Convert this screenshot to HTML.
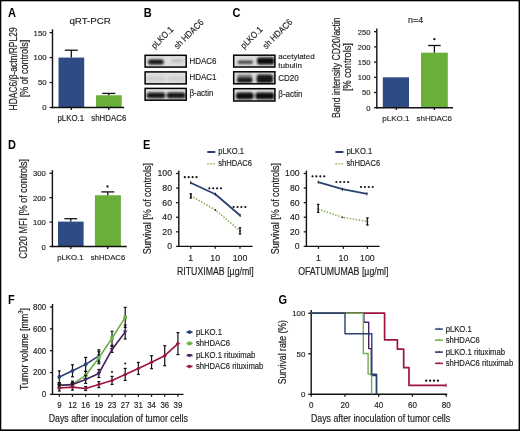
<!DOCTYPE html>
<html><head><meta charset="utf-8"><style>
html,body{margin:0;padding:0;background:#fff;}
svg{display:block;font-family:"Liberation Sans", sans-serif;will-change:transform;filter:blur(0.3px);}

</style></head><body>
<svg width="520" height="431" viewBox="0 0 520 431">
<defs><filter id="blur" x="-50%" y="-100%" width="200%" height="300%"><feGaussianBlur stdDeviation="1.0"/></filter></defs>
<rect width="520" height="431" fill="#fff"/>
<rect x="0.00" y="0.00" width="520.00" height="1.30" fill="#000" />
<rect x="0.00" y="0.00" width="1.30" height="431.00" fill="#000" />
<rect x="518.60" y="0.00" width="1.40" height="431.00" fill="#000" />
<rect x="0.00" y="429.40" width="520.00" height="1.60" fill="#000" />
<text x="0" y="0" font-size="11" text-anchor="start" font-weight="bold" fill="#000" stroke="#000" stroke-width="0" transform="translate(8.00,16.80) scale(1,1.1)" >A</text>
<text x="0" y="0" font-size="11" text-anchor="start" font-weight="bold" fill="#000" stroke="#000" stroke-width="0" transform="translate(143.80,17.30) scale(1,1.1)" >B</text>
<text x="0" y="0" font-size="11" text-anchor="start" font-weight="bold" fill="#000" stroke="#000" stroke-width="0" transform="translate(232.60,17.00) scale(1,1.1)" >C</text>
<text x="0" y="0" font-size="11" text-anchor="start" font-weight="bold" fill="#000" stroke="#000" stroke-width="0" transform="translate(8.00,148.60) scale(1,1.1)" >D</text>
<text x="0" y="0" font-size="11" text-anchor="start" font-weight="bold" fill="#000" stroke="#000" stroke-width="0" transform="translate(143.00,148.80) scale(1,1.1)" >E</text>
<text x="0" y="0" font-size="11" text-anchor="start" font-weight="bold" fill="#000" stroke="#000" stroke-width="0" transform="translate(8.00,303.70) scale(1,1.1)" >F</text>
<text x="0" y="0" font-size="11" text-anchor="start" font-weight="bold" fill="#000" stroke="#000" stroke-width="0" transform="translate(278.60,304.20) scale(1,1.1)" >G</text>
<text x="0" y="0" font-size="9.7" text-anchor="middle" font-weight="normal" fill="#1e1e1e" stroke="#1e1e1e" stroke-width="0.15" transform="translate(90.10,24.40) scale(1,1.0)" >qRT-PCR</text>
<line x1="52.50" y1="29.30" x2="52.50" y2="108.20" stroke="#111" stroke-width="1.4" />
<line x1="49.60" y1="32.60" x2="52.50" y2="32.60" stroke="#111" stroke-width="1.26" />
<text x="0" y="0" font-size="7.8" text-anchor="end" font-weight="normal" fill="#1e1e1e" stroke="#1e1e1e" stroke-width="0.15" transform="translate(46.60,35.51) scale(1,1.0)" >150</text>
<line x1="49.60" y1="57.57" x2="52.50" y2="57.57" stroke="#111" stroke-width="1.26" />
<text x="0" y="0" font-size="7.8" text-anchor="end" font-weight="normal" fill="#1e1e1e" stroke="#1e1e1e" stroke-width="0.15" transform="translate(46.60,60.47) scale(1,1.0)" >100</text>
<line x1="49.60" y1="82.53" x2="52.50" y2="82.53" stroke="#111" stroke-width="1.26" />
<text x="0" y="0" font-size="7.8" text-anchor="end" font-weight="normal" fill="#1e1e1e" stroke="#1e1e1e" stroke-width="0.15" transform="translate(46.60,85.44) scale(1,1.0)" >50</text>
<line x1="49.60" y1="107.50" x2="52.50" y2="107.50" stroke="#111" stroke-width="1.26" />
<text x="0" y="0" font-size="7.8" text-anchor="end" font-weight="normal" fill="#1e1e1e" stroke="#1e1e1e" stroke-width="0.15" transform="translate(46.60,110.41) scale(1,1.0)" >0</text>
<rect x="58.50" y="57.57" width="25.70" height="49.93" fill="#2e4b84" />
<rect x="96.00" y="95.27" width="25.70" height="12.23" fill="#6aae3c" />
<line x1="71.30" y1="50.20" x2="71.30" y2="57.57" stroke="#111" stroke-width="1.3" />
<line x1="64.80" y1="50.20" x2="77.80" y2="50.20" stroke="#111" stroke-width="1.3" />
<line x1="108.80" y1="93.40" x2="108.80" y2="95.27" stroke="#111" stroke-width="1.3" />
<line x1="102.30" y1="93.40" x2="115.30" y2="93.40" stroke="#111" stroke-width="1.3" />
<line x1="51.80" y1="107.50" x2="124.20" y2="107.50" stroke="#111" stroke-width="1.4" />
<line x1="71.30" y1="107.50" x2="71.30" y2="109.90" stroke="#111" stroke-width="1.26" />
<line x1="108.80" y1="107.50" x2="108.80" y2="109.90" stroke="#111" stroke-width="1.26" />
<text x="0" y="0" font-size="7.9" text-anchor="middle" font-weight="normal" fill="#1e1e1e" stroke="#1e1e1e" stroke-width="0.15" transform="translate(70.80,120.90) scale(1,1.12)" >pLKO.1</text>
<text x="0" y="0" font-size="7.9" text-anchor="middle" font-weight="normal" fill="#1e1e1e" stroke="#1e1e1e" stroke-width="0.15" transform="translate(108.80,120.90) scale(1,1.12)" >shHDAC6</text>
<text x="0" y="0" font-size="8.5" text-anchor="middle" fill="#1e1e1e" stroke="#1e1e1e" stroke-width="0.15" transform="translate(16.50,68.90) rotate(-90) scale(1,1.22)">HDAC6/β-actn/RPL29</text>
<text x="0" y="0" font-size="9.1" text-anchor="middle" fill="#1e1e1e" stroke="#1e1e1e" stroke-width="0.15" transform="translate(27.70,68.55) rotate(-90) scale(1,1.22)">[% of controls]</text>
<rect x="145.10" y="55.30" width="41.10" height="11.80" fill="#dedede" stroke="#000" stroke-width="1.5"/>
<rect x="148" y="59.4" width="15.80" height="5.20" rx="2.50" fill="#0a0a0a" opacity="0.95" filter="url(#blur)"/>
<rect x="171" y="59.2" width="12.50" height="3.40" rx="1.70" fill="#0a0a0a" opacity="0.15" filter="url(#blur)"/>
<rect x="145.10" y="71.90" width="41.10" height="12.00" fill="#dedede" stroke="#000" stroke-width="1.5"/>
<rect x="147" y="76.5" width="18.00" height="4.50" rx="2.25" fill="#0a0a0a" opacity="0.07" filter="url(#blur)"/>
<rect x="168" y="76.5" width="17.00" height="4.50" rx="2.25" fill="#0a0a0a" opacity="0.07" filter="url(#blur)"/>
<rect x="145.10" y="88.40" width="41.10" height="11.80" fill="#dedede" stroke="#000" stroke-width="1.5"/>
<rect x="146.8" y="92.4" width="18.50" height="5.80" rx="2.50" fill="#0a0a0a" opacity="0.95" filter="url(#blur)"/>
<rect x="166.7" y="92.4" width="18.80" height="5.80" rx="2.50" fill="#0a0a0a" opacity="0.95" filter="url(#blur)"/>
<text x="0" y="0" font-size="8" text-anchor="start" font-weight="normal" fill="#1e1e1e" stroke="#1e1e1e" stroke-width="0.15" transform="translate(189.40,63.80) scale(1,1.12)" >HDAC6</text>
<text x="0" y="0" font-size="8" text-anchor="start" font-weight="normal" fill="#1e1e1e" stroke="#1e1e1e" stroke-width="0.15" transform="translate(189.40,80.40) scale(1,1.12)" >HDAC1</text>
<text x="0" y="0" font-size="8" text-anchor="start" font-weight="normal" fill="#1e1e1e" stroke="#1e1e1e" stroke-width="0.15" transform="translate(189.40,96.40) scale(1,1.12)" >β-actin</text>
<text x="0" y="0" font-size="8" fill="#1e1e1e" stroke="#1e1e1e" stroke-width="0.15" transform="translate(154.8,49.3) rotate(-45) scale(1,1.12)">pLKO.1</text>
<text x="0" y="0" font-size="8" fill="#1e1e1e" stroke="#1e1e1e" stroke-width="0.15" transform="translate(177.5,49.6) rotate(-45) scale(1,1.12)">sh HDAC6</text>
<rect x="233.70" y="55.20" width="41.20" height="11.80" fill="#dedede" stroke="#000" stroke-width="1.5"/>
<rect x="237.6" y="60.6" width="15.40" height="3.40" rx="1.70" fill="#0a0a0a" opacity="0.72" filter="url(#blur)"/>
<rect x="257" y="57.4" width="17.30" height="7.00" rx="2.50" fill="#0a0a0a" opacity="1.0" filter="url(#blur)"/>
<rect x="233.70" y="71.80" width="41.20" height="12.00" fill="#dedede" stroke="#000" stroke-width="1.5"/>
<rect x="237" y="74.3" width="15.50" height="4.50" rx="2.25" fill="#0a0a0a" opacity="0.4" filter="url(#blur)"/>
<rect x="237" y="77.6" width="15.50" height="5.20" rx="2.50" fill="#0a0a0a" opacity="0.95" filter="url(#blur)"/>
<rect x="256.6" y="74.6" width="16.40" height="8.30" rx="2.50" fill="#0a0a0a" opacity="0.95" filter="url(#blur)"/>
<rect x="233.70" y="88.70" width="41.20" height="12.30" fill="#dedede" stroke="#000" stroke-width="1.5"/>
<rect x="236" y="92.6" width="17.60" height="6.70" rx="2.50" fill="#0a0a0a" opacity="1.0" filter="url(#blur)"/>
<rect x="255.4" y="92.6" width="18.80" height="6.70" rx="2.50" fill="#0a0a0a" opacity="1.0" filter="url(#blur)"/>
<text x="0" y="0" font-size="8" text-anchor="start" font-weight="normal" fill="#1e1e1e" stroke="#1e1e1e" stroke-width="0.15" transform="translate(278.30,58.80) scale(1,0.92)" >acetylated</text>
<text x="0" y="0" font-size="8" text-anchor="start" font-weight="normal" fill="#1e1e1e" stroke="#1e1e1e" stroke-width="0.15" transform="translate(278.30,67.60) scale(1,0.95)" >tubulin</text>
<text x="0" y="0" font-size="8" text-anchor="start" font-weight="normal" fill="#1e1e1e" stroke="#1e1e1e" stroke-width="0.15" transform="translate(278.30,80.70) scale(1,1.12)" >CD20</text>
<text x="0" y="0" font-size="8" text-anchor="start" font-weight="normal" fill="#1e1e1e" stroke="#1e1e1e" stroke-width="0.15" transform="translate(278.30,97.00) scale(1,1.12)" >β-actin</text>
<text x="0" y="0" font-size="8" fill="#1e1e1e" stroke="#1e1e1e" stroke-width="0.15" transform="translate(244.0,49.2) rotate(-45) scale(1,1.12)">pLKO.1</text>
<text x="0" y="0" font-size="8" fill="#1e1e1e" stroke="#1e1e1e" stroke-width="0.15" transform="translate(266.2,49.4) rotate(-45) scale(1,1.12)">sh HDAC6</text>
<text x="0" y="0" font-size="8.9" text-anchor="middle" font-weight="normal" fill="#1e1e1e" stroke="#1e1e1e" stroke-width="0.15" transform="translate(415.60,23.10) scale(1,0.93)" >n=4</text>
<line x1="376.80" y1="28.50" x2="376.80" y2="108.40" stroke="#111" stroke-width="1.4" />
<line x1="374.00" y1="31.70" x2="376.80" y2="31.70" stroke="#111" stroke-width="1.26" />
<text x="0" y="0" font-size="7.6" text-anchor="end" font-weight="normal" fill="#1e1e1e" stroke="#1e1e1e" stroke-width="0.15" transform="translate(370.50,34.54) scale(1,0.92)" >250</text>
<line x1="374.00" y1="46.90" x2="376.80" y2="46.90" stroke="#111" stroke-width="1.26" />
<text x="0" y="0" font-size="7.6" text-anchor="end" font-weight="normal" fill="#1e1e1e" stroke="#1e1e1e" stroke-width="0.15" transform="translate(370.50,49.74) scale(1,0.92)" >200</text>
<line x1="374.00" y1="62.10" x2="376.80" y2="62.10" stroke="#111" stroke-width="1.26" />
<text x="0" y="0" font-size="7.6" text-anchor="end" font-weight="normal" fill="#1e1e1e" stroke="#1e1e1e" stroke-width="0.15" transform="translate(370.50,64.94) scale(1,0.92)" >150</text>
<line x1="374.00" y1="77.30" x2="376.80" y2="77.30" stroke="#111" stroke-width="1.26" />
<text x="0" y="0" font-size="7.6" text-anchor="end" font-weight="normal" fill="#1e1e1e" stroke="#1e1e1e" stroke-width="0.15" transform="translate(370.50,80.14) scale(1,0.92)" >100</text>
<line x1="374.00" y1="92.50" x2="376.80" y2="92.50" stroke="#111" stroke-width="1.26" />
<text x="0" y="0" font-size="7.6" text-anchor="end" font-weight="normal" fill="#1e1e1e" stroke="#1e1e1e" stroke-width="0.15" transform="translate(370.50,95.34) scale(1,0.92)" >50</text>
<line x1="374.00" y1="107.70" x2="376.80" y2="107.70" stroke="#111" stroke-width="1.26" />
<text x="0" y="0" font-size="7.6" text-anchor="end" font-weight="normal" fill="#1e1e1e" stroke="#1e1e1e" stroke-width="0.15" transform="translate(370.50,110.54) scale(1,0.92)" >0</text>
<rect x="382.80" y="77.30" width="26.20" height="30.40" fill="#2e4b84" />
<rect x="421.00" y="52.68" width="26.80" height="55.02" fill="#6aae3c" />
<line x1="434.40" y1="45.50" x2="434.40" y2="52.68" stroke="#111" stroke-width="1.3" />
<line x1="428.10" y1="45.50" x2="440.70" y2="45.50" stroke="#111" stroke-width="1.3" />
<circle cx="434.40" cy="39.20" r="1.15" fill="#111"/>
<line x1="376.10" y1="107.70" x2="453.00" y2="107.70" stroke="#111" stroke-width="1.4" />
<line x1="396.30" y1="107.70" x2="396.30" y2="110.10" stroke="#111" stroke-width="1.26" />
<line x1="434.30" y1="107.70" x2="434.30" y2="110.10" stroke="#111" stroke-width="1.26" />
<text x="0" y="0" font-size="8" text-anchor="middle" font-weight="normal" fill="#1e1e1e" stroke="#1e1e1e" stroke-width="0.15" transform="translate(395.90,120.80) scale(1,0.87)" >pLKO.1</text>
<text x="0" y="0" font-size="8" text-anchor="middle" font-weight="normal" fill="#1e1e1e" stroke="#1e1e1e" stroke-width="0.15" transform="translate(434.20,120.80) scale(1,0.87)" >shHDAC6</text>
<text x="0" y="0" font-size="8.75" text-anchor="middle" fill="#1e1e1e" stroke="#1e1e1e" stroke-width="0.15" transform="translate(340.00,67.60) rotate(-90) scale(1,1.22)">Band intensity CD20/actin</text>
<text x="0" y="0" font-size="9.2" text-anchor="middle" fill="#1e1e1e" stroke="#1e1e1e" stroke-width="0.15" transform="translate(350.50,67.10) rotate(-90) scale(1,1.22)">[% controls]</text>
<line x1="52.40" y1="170.20" x2="52.40" y2="247.20" stroke="#111" stroke-width="1.4" />
<line x1="49.50" y1="173.30" x2="52.40" y2="173.30" stroke="#111" stroke-width="1.26" />
<text x="0" y="0" font-size="7.7" text-anchor="end" font-weight="normal" fill="#1e1e1e" stroke="#1e1e1e" stroke-width="0.15" transform="translate(45.90,176.37) scale(1,0.95)" >300</text>
<line x1="49.50" y1="197.70" x2="52.40" y2="197.70" stroke="#111" stroke-width="1.26" />
<text x="0" y="0" font-size="7.7" text-anchor="end" font-weight="normal" fill="#1e1e1e" stroke="#1e1e1e" stroke-width="0.15" transform="translate(45.90,200.77) scale(1,0.95)" >200</text>
<line x1="49.50" y1="222.10" x2="52.40" y2="222.10" stroke="#111" stroke-width="1.26" />
<text x="0" y="0" font-size="7.7" text-anchor="end" font-weight="normal" fill="#1e1e1e" stroke="#1e1e1e" stroke-width="0.15" transform="translate(45.90,225.17) scale(1,0.95)" >100</text>
<line x1="49.50" y1="246.50" x2="52.40" y2="246.50" stroke="#111" stroke-width="1.26" />
<text x="0" y="0" font-size="7.7" text-anchor="end" font-weight="normal" fill="#1e1e1e" stroke="#1e1e1e" stroke-width="0.15" transform="translate(45.90,249.57) scale(1,0.95)" >0</text>
<rect x="58.00" y="221.61" width="25.60" height="24.89" fill="#2e4b84" />
<rect x="94.90" y="195.26" width="26.00" height="51.24" fill="#6aae3c" />
<line x1="70.80" y1="218.70" x2="70.80" y2="221.61" stroke="#111" stroke-width="1.3" />
<line x1="64.40" y1="218.70" x2="77.20" y2="218.70" stroke="#111" stroke-width="1.3" />
<line x1="107.80" y1="191.90" x2="107.80" y2="195.26" stroke="#111" stroke-width="1.3" />
<line x1="101.30" y1="191.90" x2="114.30" y2="191.90" stroke="#111" stroke-width="1.3" />
<circle cx="107.50" cy="186.50" r="1.15" fill="#111"/>
<line x1="51.70" y1="246.50" x2="126.80" y2="246.50" stroke="#111" stroke-width="1.4" />
<line x1="70.80" y1="246.50" x2="70.80" y2="248.90" stroke="#111" stroke-width="1.26" />
<line x1="107.70" y1="246.50" x2="107.70" y2="248.90" stroke="#111" stroke-width="1.26" />
<text x="0" y="0" font-size="7.8" text-anchor="middle" font-weight="normal" fill="#1e1e1e" stroke="#1e1e1e" stroke-width="0.15" transform="translate(70.40,259.80) scale(1,1.02)" >pLKO.1</text>
<text x="0" y="0" font-size="7.8" text-anchor="middle" font-weight="normal" fill="#1e1e1e" stroke="#1e1e1e" stroke-width="0.15" transform="translate(108.00,259.80) scale(1,1.02)" >shHDAC6</text>
<text x="0" y="0" font-size="8.95" text-anchor="middle" fill="#1e1e1e" stroke="#1e1e1e" stroke-width="0.15" transform="translate(27.10,208.90) rotate(-90) scale(1,1.22)">CD20 MFI [% of controls]</text>
<line x1="178.80" y1="170.60" x2="178.80" y2="247.10" stroke="#111" stroke-width="1.4" />
<line x1="176.10" y1="173.50" x2="178.80" y2="173.50" stroke="#111" stroke-width="1.26" />
<text x="0" y="0" font-size="8.7" text-anchor="end" font-weight="normal" fill="#1e1e1e" stroke="#1e1e1e" stroke-width="0.15" transform="translate(172.00,176.43) scale(1,1.12)" >100</text>
<line x1="176.10" y1="188.08" x2="178.80" y2="188.08" stroke="#111" stroke-width="1.26" />
<text x="0" y="0" font-size="8.7" text-anchor="end" font-weight="normal" fill="#1e1e1e" stroke="#1e1e1e" stroke-width="0.15" transform="translate(172.00,191.01) scale(1,1.12)" >80</text>
<line x1="176.10" y1="202.66" x2="178.80" y2="202.66" stroke="#111" stroke-width="1.26" />
<text x="0" y="0" font-size="8.7" text-anchor="end" font-weight="normal" fill="#1e1e1e" stroke="#1e1e1e" stroke-width="0.15" transform="translate(172.00,205.59) scale(1,1.12)" >60</text>
<line x1="176.10" y1="217.24" x2="178.80" y2="217.24" stroke="#111" stroke-width="1.26" />
<text x="0" y="0" font-size="8.7" text-anchor="end" font-weight="normal" fill="#1e1e1e" stroke="#1e1e1e" stroke-width="0.15" transform="translate(172.00,220.17) scale(1,1.12)" >40</text>
<line x1="176.10" y1="231.82" x2="178.80" y2="231.82" stroke="#111" stroke-width="1.26" />
<text x="0" y="0" font-size="8.7" text-anchor="end" font-weight="normal" fill="#1e1e1e" stroke="#1e1e1e" stroke-width="0.15" transform="translate(172.00,234.75) scale(1,1.12)" >20</text>
<line x1="176.10" y1="246.40" x2="178.80" y2="246.40" stroke="#111" stroke-width="1.26" />
<text x="0" y="0" font-size="8.7" text-anchor="end" font-weight="normal" fill="#1e1e1e" stroke="#1e1e1e" stroke-width="0.15" transform="translate(172.00,249.33) scale(1,1.12)" >0</text>
<line x1="178.10" y1="246.40" x2="252.60" y2="246.40" stroke="#111" stroke-width="1.4" />
<line x1="190.80" y1="246.40" x2="190.80" y2="248.80" stroke="#111" stroke-width="1.26" />
<line x1="215.20" y1="246.40" x2="215.20" y2="248.80" stroke="#111" stroke-width="1.26" />
<line x1="240.00" y1="246.40" x2="240.00" y2="248.80" stroke="#111" stroke-width="1.26" />
<text x="0" y="0" font-size="8.8" text-anchor="middle" font-weight="normal" fill="#1e1e1e" stroke="#1e1e1e" stroke-width="0.15" transform="translate(190.80,261.10) scale(1,1.12)" >1</text>
<text x="0" y="0" font-size="8.8" text-anchor="middle" font-weight="normal" fill="#1e1e1e" stroke="#1e1e1e" stroke-width="0.15" transform="translate(215.20,261.10) scale(1,1.12)" >10</text>
<text x="0" y="0" font-size="8.8" text-anchor="middle" font-weight="normal" fill="#1e1e1e" stroke="#1e1e1e" stroke-width="0.15" transform="translate(240.00,261.10) scale(1,1.12)" >100</text>
<text x="0" y="0" font-size="8.8" text-anchor="middle" font-weight="normal" fill="#1e1e1e" stroke="#1e1e1e" stroke-width="0.15" transform="translate(215.30,275.30) scale(1,1.14)" >RITUXIMAB [µg/ml]</text>
<text x="0" y="0" font-size="9.0" text-anchor="middle" fill="#1e1e1e" stroke="#1e1e1e" stroke-width="0.15" transform="translate(150.60,208.60) rotate(-90) scale(1,1.22)">Survival [% of controls]</text>
<polyline points="190.80,195.80 215.40,210.00 240.00,231.00" fill="none" stroke="#86b152" stroke-width="1.6" stroke-linejoin="round" stroke-dasharray="1.4 1.6"/>
<line x1="190.80" y1="193.80" x2="190.80" y2="198.00" stroke="#111" stroke-width="1.3" />
<line x1="189.60" y1="193.80" x2="192.00" y2="193.80" stroke="#111" stroke-width="1.3" />
<line x1="189.60" y1="198.00" x2="192.00" y2="198.00" stroke="#111" stroke-width="1.3" />
<line x1="240.00" y1="227.80" x2="240.00" y2="234.00" stroke="#111" stroke-width="1.3" />
<line x1="238.80" y1="227.80" x2="241.20" y2="227.80" stroke="#111" stroke-width="1.3" />
<line x1="238.80" y1="234.00" x2="241.20" y2="234.00" stroke="#111" stroke-width="1.3" />
<circle cx="190.8" cy="195.8" r="0.9" fill="#333"/>
<circle cx="215.4" cy="210.0" r="0.9" fill="#333"/>
<circle cx="240.0" cy="231.0" r="0.9" fill="#333"/>
<polyline points="190.60,182.70 215.40,194.20 240.20,215.50" fill="none" stroke="#2a4175" stroke-width="1.8" stroke-linejoin="round" />
<line x1="190.60" y1="181.20" x2="190.60" y2="184.20" stroke="#222" stroke-width="1.0" />
<line x1="215.40" y1="192.70" x2="215.40" y2="195.70" stroke="#222" stroke-width="1.0" />
<line x1="240.20" y1="214.00" x2="240.20" y2="217.00" stroke="#222" stroke-width="1.0" />
<circle cx="184.80" cy="177.20" r="1.08" fill="#111"/>
<circle cx="188.70" cy="177.20" r="1.08" fill="#111"/>
<circle cx="192.60" cy="177.20" r="1.08" fill="#111"/>
<circle cx="196.50" cy="177.20" r="1.08" fill="#111"/>
<circle cx="209.30" cy="188.30" r="1.08" fill="#111"/>
<circle cx="213.20" cy="188.30" r="1.08" fill="#111"/>
<circle cx="217.10" cy="188.30" r="1.08" fill="#111"/>
<circle cx="221.00" cy="188.30" r="1.08" fill="#111"/>
<circle cx="233.60" cy="207.00" r="1.08" fill="#111"/>
<circle cx="237.50" cy="207.00" r="1.08" fill="#111"/>
<circle cx="241.40" cy="207.00" r="1.08" fill="#111"/>
<circle cx="245.30" cy="207.00" r="1.08" fill="#111"/>
<line x1="306.40" y1="170.60" x2="306.40" y2="247.10" stroke="#111" stroke-width="1.4" />
<line x1="303.70" y1="173.50" x2="306.40" y2="173.50" stroke="#111" stroke-width="1.26" />
<text x="0" y="0" font-size="8.7" text-anchor="end" font-weight="normal" fill="#1e1e1e" stroke="#1e1e1e" stroke-width="0.15" transform="translate(299.60,176.43) scale(1,1.12)" >100</text>
<line x1="303.70" y1="188.08" x2="306.40" y2="188.08" stroke="#111" stroke-width="1.26" />
<text x="0" y="0" font-size="8.7" text-anchor="end" font-weight="normal" fill="#1e1e1e" stroke="#1e1e1e" stroke-width="0.15" transform="translate(299.60,191.01) scale(1,1.12)" >80</text>
<line x1="303.70" y1="202.66" x2="306.40" y2="202.66" stroke="#111" stroke-width="1.26" />
<text x="0" y="0" font-size="8.7" text-anchor="end" font-weight="normal" fill="#1e1e1e" stroke="#1e1e1e" stroke-width="0.15" transform="translate(299.60,205.59) scale(1,1.12)" >60</text>
<line x1="303.70" y1="217.24" x2="306.40" y2="217.24" stroke="#111" stroke-width="1.26" />
<text x="0" y="0" font-size="8.7" text-anchor="end" font-weight="normal" fill="#1e1e1e" stroke="#1e1e1e" stroke-width="0.15" transform="translate(299.60,220.17) scale(1,1.12)" >40</text>
<line x1="303.70" y1="231.82" x2="306.40" y2="231.82" stroke="#111" stroke-width="1.26" />
<text x="0" y="0" font-size="8.7" text-anchor="end" font-weight="normal" fill="#1e1e1e" stroke="#1e1e1e" stroke-width="0.15" transform="translate(299.60,234.75) scale(1,1.12)" >20</text>
<line x1="303.70" y1="246.40" x2="306.40" y2="246.40" stroke="#111" stroke-width="1.26" />
<text x="0" y="0" font-size="8.7" text-anchor="end" font-weight="normal" fill="#1e1e1e" stroke="#1e1e1e" stroke-width="0.15" transform="translate(299.60,249.33) scale(1,1.12)" >0</text>
<line x1="305.70" y1="246.40" x2="379.60" y2="246.40" stroke="#111" stroke-width="1.4" />
<line x1="318.50" y1="246.40" x2="318.50" y2="248.80" stroke="#111" stroke-width="1.26" />
<line x1="343.40" y1="246.40" x2="343.40" y2="248.80" stroke="#111" stroke-width="1.26" />
<line x1="367.40" y1="246.40" x2="367.40" y2="248.80" stroke="#111" stroke-width="1.26" />
<text x="0" y="0" font-size="8.8" text-anchor="middle" font-weight="normal" fill="#1e1e1e" stroke="#1e1e1e" stroke-width="0.15" transform="translate(318.50,261.10) scale(1,1.12)" >1</text>
<text x="0" y="0" font-size="8.8" text-anchor="middle" font-weight="normal" fill="#1e1e1e" stroke="#1e1e1e" stroke-width="0.15" transform="translate(343.40,261.10) scale(1,1.12)" >10</text>
<text x="0" y="0" font-size="8.8" text-anchor="middle" font-weight="normal" fill="#1e1e1e" stroke="#1e1e1e" stroke-width="0.15" transform="translate(367.40,261.10) scale(1,1.12)" >100</text>
<text x="0" y="0" font-size="8.8" text-anchor="middle" font-weight="normal" fill="#1e1e1e" stroke="#1e1e1e" stroke-width="0.15" transform="translate(343.30,275.30) scale(1,1.14)" >OFATUMUMAB [µg/ml]</text>
<text x="0" y="0" font-size="9.0" text-anchor="middle" fill="#1e1e1e" stroke="#1e1e1e" stroke-width="0.15" transform="translate(278.60,208.60) rotate(-90) scale(1,1.22)">Survival [% of controls]</text>
<polyline points="318.20,209.20 342.50,217.30 367.40,221.50" fill="none" stroke="#86b152" stroke-width="1.6" stroke-linejoin="round" stroke-dasharray="1.4 1.6"/>
<line x1="318.20" y1="204.40" x2="318.20" y2="212.30" stroke="#111" stroke-width="1.3" />
<line x1="317.00" y1="204.40" x2="319.40" y2="204.40" stroke="#111" stroke-width="1.3" />
<line x1="317.00" y1="212.30" x2="319.40" y2="212.30" stroke="#111" stroke-width="1.3" />
<line x1="367.40" y1="218.00" x2="367.40" y2="225.00" stroke="#111" stroke-width="1.3" />
<line x1="366.20" y1="218.00" x2="368.60" y2="218.00" stroke="#111" stroke-width="1.3" />
<line x1="366.20" y1="225.00" x2="368.60" y2="225.00" stroke="#111" stroke-width="1.3" />
<circle cx="318.2" cy="209.2" r="0.9" fill="#333"/>
<circle cx="342.5" cy="217.3" r="0.9" fill="#333"/>
<circle cx="367.4" cy="221.5" r="0.9" fill="#333"/>
<polyline points="318.20,182.10 342.50,189.20 367.00,193.80" fill="none" stroke="#2a4175" stroke-width="1.8" stroke-linejoin="round" />
<line x1="318.20" y1="180.60" x2="318.20" y2="183.60" stroke="#222" stroke-width="1.0" />
<line x1="342.50" y1="187.70" x2="342.50" y2="190.70" stroke="#222" stroke-width="1.0" />
<line x1="367.00" y1="192.30" x2="367.00" y2="195.30" stroke="#222" stroke-width="1.0" />
<circle cx="312.50" cy="176.30" r="1.08" fill="#111"/>
<circle cx="316.40" cy="176.30" r="1.08" fill="#111"/>
<circle cx="320.30" cy="176.30" r="1.08" fill="#111"/>
<circle cx="324.20" cy="176.30" r="1.08" fill="#111"/>
<circle cx="336.40" cy="182.00" r="1.08" fill="#111"/>
<circle cx="340.30" cy="182.00" r="1.08" fill="#111"/>
<circle cx="344.20" cy="182.00" r="1.08" fill="#111"/>
<circle cx="348.10" cy="182.00" r="1.08" fill="#111"/>
<circle cx="361.00" cy="187.00" r="1.08" fill="#111"/>
<circle cx="364.90" cy="187.00" r="1.08" fill="#111"/>
<circle cx="368.80" cy="187.00" r="1.08" fill="#111"/>
<circle cx="372.70" cy="187.00" r="1.08" fill="#111"/>
<line x1="207.30" y1="152.00" x2="215.30" y2="152.00" stroke="#2a4175" stroke-width="2" />
<line x1="207.30" y1="163.70" x2="215.30" y2="163.70" stroke="#86b152" stroke-width="1.6" stroke-dasharray="1.4 1.6"/>
<text x="0" y="0" font-size="7.6" text-anchor="start" font-weight="normal" fill="#1e1e1e" stroke="#1e1e1e" stroke-width="0.15" transform="translate(218.30,154.30) scale(1,1.12)" >pLKO.1</text>
<text x="0" y="0" font-size="7.6" text-anchor="start" font-weight="normal" fill="#1e1e1e" stroke="#1e1e1e" stroke-width="0.15" transform="translate(218.30,166.00) scale(1,1.12)" >shHDAC6</text>
<line x1="335.40" y1="152.00" x2="343.40" y2="152.00" stroke="#2a4175" stroke-width="2" />
<line x1="335.40" y1="163.70" x2="343.40" y2="163.70" stroke="#86b152" stroke-width="1.6" stroke-dasharray="1.4 1.6"/>
<text x="0" y="0" font-size="7.6" text-anchor="start" font-weight="normal" fill="#1e1e1e" stroke="#1e1e1e" stroke-width="0.15" transform="translate(346.40,154.30) scale(1,1.12)" >pLKO.1</text>
<text x="0" y="0" font-size="7.6" text-anchor="start" font-weight="normal" fill="#1e1e1e" stroke="#1e1e1e" stroke-width="0.15" transform="translate(346.40,166.00) scale(1,1.12)" >shHDAC6</text>
<line x1="52.50" y1="304.00" x2="52.50" y2="395.10" stroke="#111" stroke-width="1.4" />
<line x1="49.90" y1="307.00" x2="52.50" y2="307.00" stroke="#111" stroke-width="1.26" />
<text x="0" y="0" font-size="7.9" text-anchor="end" font-weight="normal" fill="#1e1e1e" stroke="#1e1e1e" stroke-width="0.15" transform="translate(46.20,309.84) scale(1,1.05)" >800</text>
<line x1="49.90" y1="328.85" x2="52.50" y2="328.85" stroke="#111" stroke-width="1.26" />
<text x="0" y="0" font-size="7.9" text-anchor="end" font-weight="normal" fill="#1e1e1e" stroke="#1e1e1e" stroke-width="0.15" transform="translate(46.20,331.69) scale(1,1.05)" >600</text>
<line x1="49.90" y1="350.70" x2="52.50" y2="350.70" stroke="#111" stroke-width="1.26" />
<text x="0" y="0" font-size="7.9" text-anchor="end" font-weight="normal" fill="#1e1e1e" stroke="#1e1e1e" stroke-width="0.15" transform="translate(46.20,353.54) scale(1,1.05)" >400</text>
<line x1="49.90" y1="372.55" x2="52.50" y2="372.55" stroke="#111" stroke-width="1.26" />
<text x="0" y="0" font-size="7.9" text-anchor="end" font-weight="normal" fill="#1e1e1e" stroke="#1e1e1e" stroke-width="0.15" transform="translate(46.20,375.39) scale(1,1.05)" >200</text>
<line x1="49.90" y1="394.40" x2="52.50" y2="394.40" stroke="#111" stroke-width="1.26" />
<text x="0" y="0" font-size="7.9" text-anchor="end" font-weight="normal" fill="#1e1e1e" stroke="#1e1e1e" stroke-width="0.15" transform="translate(46.20,397.24) scale(1,1.05)" >0</text>
<line x1="51.80" y1="394.40" x2="183.50" y2="394.40" stroke="#111" stroke-width="1.4" />
<line x1="59.30" y1="394.40" x2="59.30" y2="396.80" stroke="#111" stroke-width="1.26" />
<line x1="72.48" y1="394.40" x2="72.48" y2="396.80" stroke="#111" stroke-width="1.26" />
<line x1="85.66" y1="394.40" x2="85.66" y2="396.80" stroke="#111" stroke-width="1.26" />
<line x1="98.84" y1="394.40" x2="98.84" y2="396.80" stroke="#111" stroke-width="1.26" />
<line x1="112.02" y1="394.40" x2="112.02" y2="396.80" stroke="#111" stroke-width="1.26" />
<line x1="125.20" y1="394.40" x2="125.20" y2="396.80" stroke="#111" stroke-width="1.26" />
<line x1="138.38" y1="394.40" x2="138.38" y2="396.80" stroke="#111" stroke-width="1.26" />
<line x1="151.56" y1="394.40" x2="151.56" y2="396.80" stroke="#111" stroke-width="1.26" />
<line x1="164.74" y1="394.40" x2="164.74" y2="396.80" stroke="#111" stroke-width="1.26" />
<line x1="177.92" y1="394.40" x2="177.92" y2="396.80" stroke="#111" stroke-width="1.26" />
<text x="0" y="0" font-size="7.8" text-anchor="middle" font-weight="normal" fill="#1e1e1e" stroke="#1e1e1e" stroke-width="0.15" transform="translate(59.30,407.70) scale(1,1.12)" >9</text>
<text x="0" y="0" font-size="7.8" text-anchor="middle" font-weight="normal" fill="#1e1e1e" stroke="#1e1e1e" stroke-width="0.15" transform="translate(72.48,407.70) scale(1,1.12)" >12</text>
<text x="0" y="0" font-size="7.8" text-anchor="middle" font-weight="normal" fill="#1e1e1e" stroke="#1e1e1e" stroke-width="0.15" transform="translate(85.66,407.70) scale(1,1.12)" >16</text>
<text x="0" y="0" font-size="7.8" text-anchor="middle" font-weight="normal" fill="#1e1e1e" stroke="#1e1e1e" stroke-width="0.15" transform="translate(98.84,407.70) scale(1,1.12)" >19</text>
<text x="0" y="0" font-size="7.8" text-anchor="middle" font-weight="normal" fill="#1e1e1e" stroke="#1e1e1e" stroke-width="0.15" transform="translate(112.02,407.70) scale(1,1.12)" >23</text>
<text x="0" y="0" font-size="7.8" text-anchor="middle" font-weight="normal" fill="#1e1e1e" stroke="#1e1e1e" stroke-width="0.15" transform="translate(125.20,407.70) scale(1,1.12)" >27</text>
<text x="0" y="0" font-size="7.8" text-anchor="middle" font-weight="normal" fill="#1e1e1e" stroke="#1e1e1e" stroke-width="0.15" transform="translate(138.38,407.70) scale(1,1.12)" >31</text>
<text x="0" y="0" font-size="7.8" text-anchor="middle" font-weight="normal" fill="#1e1e1e" stroke="#1e1e1e" stroke-width="0.15" transform="translate(151.56,407.70) scale(1,1.12)" >34</text>
<text x="0" y="0" font-size="7.8" text-anchor="middle" font-weight="normal" fill="#1e1e1e" stroke="#1e1e1e" stroke-width="0.15" transform="translate(164.74,407.70) scale(1,1.12)" >36</text>
<text x="0" y="0" font-size="7.8" text-anchor="middle" font-weight="normal" fill="#1e1e1e" stroke="#1e1e1e" stroke-width="0.15" transform="translate(177.92,407.70) scale(1,1.12)" >39</text>
<text x="0" y="0" font-size="8.8" text-anchor="middle" font-weight="normal" fill="#1e1e1e" stroke="#1e1e1e" stroke-width="0.15" transform="translate(118.30,422.00) scale(1,1.22)" >Days after inoculation of tumor cells</text>
<text x="0" y="0" font-size="8.9" text-anchor="middle" fill="#1e1e1e" stroke="#1e1e1e" stroke-width="0.15" transform="translate(27.5,349.0) rotate(-90) scale(1,1.22)">Tumor volume [mm<tspan font-size="5.8" dy="-3.4">3</tspan><tspan dy="3.4">]</tspan></text>
<line x1="59.30" y1="370.90" x2="59.30" y2="382.90" stroke="#111" stroke-width="1.2" />
<line x1="57.80" y1="370.90" x2="60.80" y2="370.90" stroke="#111" stroke-width="1.2" />
<line x1="57.80" y1="382.90" x2="60.80" y2="382.90" stroke="#111" stroke-width="1.2" />
<line x1="72.48" y1="364.80" x2="72.48" y2="376.80" stroke="#111" stroke-width="1.2" />
<line x1="70.98" y1="364.80" x2="73.98" y2="364.80" stroke="#111" stroke-width="1.2" />
<line x1="70.98" y1="376.80" x2="73.98" y2="376.80" stroke="#111" stroke-width="1.2" />
<line x1="85.66" y1="357.40" x2="85.66" y2="371.40" stroke="#111" stroke-width="1.2" />
<line x1="84.16" y1="357.40" x2="87.16" y2="357.40" stroke="#111" stroke-width="1.2" />
<line x1="84.16" y1="371.40" x2="87.16" y2="371.40" stroke="#111" stroke-width="1.2" />
<line x1="98.84" y1="349.80" x2="98.84" y2="361.80" stroke="#111" stroke-width="1.2" />
<line x1="97.34" y1="349.80" x2="100.34" y2="349.80" stroke="#111" stroke-width="1.2" />
<line x1="97.34" y1="361.80" x2="100.34" y2="361.80" stroke="#111" stroke-width="1.2" />
<polyline points="59.30,376.90 72.48,370.80 85.66,364.40 98.84,355.80" fill="none" stroke="#2a4175" stroke-width="1.6" stroke-linejoin="round" />
<circle cx="59.30" cy="376.90" r="1.9" fill="#2a4175"/>
<circle cx="72.48" cy="370.80" r="1.9" fill="#2a4175"/>
<circle cx="85.66" cy="364.40" r="1.9" fill="#2a4175"/>
<circle cx="98.84" cy="355.80" r="1.9" fill="#2a4175"/>
<line x1="59.30" y1="382.60" x2="59.30" y2="388.60" stroke="#111" stroke-width="1.2" />
<line x1="57.80" y1="382.60" x2="60.80" y2="382.60" stroke="#111" stroke-width="1.2" />
<line x1="57.80" y1="388.60" x2="60.80" y2="388.60" stroke="#111" stroke-width="1.2" />
<line x1="72.48" y1="381.20" x2="72.48" y2="387.20" stroke="#111" stroke-width="1.2" />
<line x1="70.98" y1="381.20" x2="73.98" y2="381.20" stroke="#111" stroke-width="1.2" />
<line x1="70.98" y1="387.20" x2="73.98" y2="387.20" stroke="#111" stroke-width="1.2" />
<line x1="85.66" y1="371.40" x2="85.66" y2="379.40" stroke="#111" stroke-width="1.2" />
<line x1="84.16" y1="371.40" x2="87.16" y2="371.40" stroke="#111" stroke-width="1.2" />
<line x1="84.16" y1="379.40" x2="87.16" y2="379.40" stroke="#111" stroke-width="1.2" />
<line x1="98.84" y1="351.70" x2="98.84" y2="363.70" stroke="#111" stroke-width="1.2" />
<line x1="97.34" y1="351.70" x2="100.34" y2="351.70" stroke="#111" stroke-width="1.2" />
<line x1="97.34" y1="363.70" x2="100.34" y2="363.70" stroke="#111" stroke-width="1.2" />
<line x1="112.02" y1="331.30" x2="112.02" y2="345.30" stroke="#111" stroke-width="1.2" />
<line x1="110.52" y1="331.30" x2="113.52" y2="331.30" stroke="#111" stroke-width="1.2" />
<line x1="110.52" y1="345.30" x2="113.52" y2="345.30" stroke="#111" stroke-width="1.2" />
<line x1="125.20" y1="307.40" x2="125.20" y2="327.40" stroke="#111" stroke-width="1.2" />
<line x1="123.70" y1="307.40" x2="126.70" y2="307.40" stroke="#111" stroke-width="1.2" />
<line x1="123.70" y1="327.40" x2="126.70" y2="327.40" stroke="#111" stroke-width="1.2" />
<polyline points="59.30,385.60 72.48,384.20 85.66,375.40 98.84,357.70 112.02,338.30 125.20,317.40" fill="none" stroke="#6db04a" stroke-width="1.6" stroke-linejoin="round" />
<rect x="57.50" y="383.80" width="3.6" height="3.6" fill="#6db04a"/>
<rect x="70.68" y="382.40" width="3.6" height="3.6" fill="#6db04a"/>
<rect x="83.86" y="373.60" width="3.6" height="3.6" fill="#6db04a"/>
<rect x="97.04" y="355.90" width="3.6" height="3.6" fill="#6db04a"/>
<rect x="110.22" y="336.50" width="3.6" height="3.6" fill="#6db04a"/>
<rect x="123.40" y="315.60" width="3.6" height="3.6" fill="#6db04a"/>
<line x1="59.30" y1="383.20" x2="59.30" y2="387.20" stroke="#111" stroke-width="1.2" />
<line x1="57.80" y1="383.20" x2="60.80" y2="383.20" stroke="#111" stroke-width="1.2" />
<line x1="57.80" y1="387.20" x2="60.80" y2="387.20" stroke="#111" stroke-width="1.2" />
<line x1="72.48" y1="382.60" x2="72.48" y2="386.60" stroke="#111" stroke-width="1.2" />
<line x1="70.98" y1="382.60" x2="73.98" y2="382.60" stroke="#111" stroke-width="1.2" />
<line x1="70.98" y1="386.60" x2="73.98" y2="386.60" stroke="#111" stroke-width="1.2" />
<line x1="85.66" y1="375.40" x2="85.66" y2="383.40" stroke="#111" stroke-width="1.2" />
<line x1="84.16" y1="375.40" x2="87.16" y2="375.40" stroke="#111" stroke-width="1.2" />
<line x1="84.16" y1="383.40" x2="87.16" y2="383.40" stroke="#111" stroke-width="1.2" />
<line x1="98.84" y1="369.50" x2="98.84" y2="377.50" stroke="#111" stroke-width="1.2" />
<line x1="97.34" y1="369.50" x2="100.34" y2="369.50" stroke="#111" stroke-width="1.2" />
<line x1="97.34" y1="377.50" x2="100.34" y2="377.50" stroke="#111" stroke-width="1.2" />
<line x1="112.02" y1="346.40" x2="112.02" y2="352.40" stroke="#111" stroke-width="1.2" />
<line x1="110.52" y1="346.40" x2="113.52" y2="346.40" stroke="#111" stroke-width="1.2" />
<line x1="110.52" y1="352.40" x2="113.52" y2="352.40" stroke="#111" stroke-width="1.2" />
<line x1="125.20" y1="325.00" x2="125.20" y2="339.00" stroke="#111" stroke-width="1.2" />
<line x1="123.70" y1="325.00" x2="126.70" y2="325.00" stroke="#111" stroke-width="1.2" />
<line x1="123.70" y1="339.00" x2="126.70" y2="339.00" stroke="#111" stroke-width="1.2" />
<polyline points="59.30,385.20 72.48,384.60 85.66,379.40 98.84,373.50 112.02,349.40 125.20,332.00" fill="none" stroke="#48225f" stroke-width="1.6" stroke-linejoin="round" />
<path d="M57.00,383.70 L61.60,383.70 L59.30,387.30 Z" fill="#48225f"/>
<path d="M70.18,383.10 L74.78,383.10 L72.48,386.70 Z" fill="#48225f"/>
<path d="M83.36,377.90 L87.96,377.90 L85.66,381.50 Z" fill="#48225f"/>
<path d="M96.54,372.00 L101.14,372.00 L98.84,375.60 Z" fill="#48225f"/>
<path d="M109.72,347.90 L114.32,347.90 L112.02,351.50 Z" fill="#48225f"/>
<path d="M122.90,330.50 L127.50,330.50 L125.20,334.10 Z" fill="#48225f"/>
<line x1="59.30" y1="385.00" x2="59.30" y2="391.00" stroke="#111" stroke-width="1.2" />
<line x1="57.80" y1="385.00" x2="60.80" y2="385.00" stroke="#111" stroke-width="1.2" />
<line x1="57.80" y1="391.00" x2="60.80" y2="391.00" stroke="#111" stroke-width="1.2" />
<line x1="72.48" y1="384.10" x2="72.48" y2="390.10" stroke="#111" stroke-width="1.2" />
<line x1="70.98" y1="384.10" x2="73.98" y2="384.10" stroke="#111" stroke-width="1.2" />
<line x1="70.98" y1="390.10" x2="73.98" y2="390.10" stroke="#111" stroke-width="1.2" />
<line x1="85.66" y1="386.50" x2="85.66" y2="390.50" stroke="#111" stroke-width="1.2" />
<line x1="84.16" y1="386.50" x2="87.16" y2="386.50" stroke="#111" stroke-width="1.2" />
<line x1="84.16" y1="390.50" x2="87.16" y2="390.50" stroke="#111" stroke-width="1.2" />
<line x1="98.84" y1="381.60" x2="98.84" y2="387.60" stroke="#111" stroke-width="1.2" />
<line x1="97.34" y1="381.60" x2="100.34" y2="381.60" stroke="#111" stroke-width="1.2" />
<line x1="97.34" y1="387.60" x2="100.34" y2="387.60" stroke="#111" stroke-width="1.2" />
<line x1="112.02" y1="376.40" x2="112.02" y2="384.40" stroke="#111" stroke-width="1.2" />
<line x1="110.52" y1="376.40" x2="113.52" y2="376.40" stroke="#111" stroke-width="1.2" />
<line x1="110.52" y1="384.40" x2="113.52" y2="384.40" stroke="#111" stroke-width="1.2" />
<line x1="125.20" y1="368.40" x2="125.20" y2="380.40" stroke="#111" stroke-width="1.2" />
<line x1="123.70" y1="368.40" x2="126.70" y2="368.40" stroke="#111" stroke-width="1.2" />
<line x1="123.70" y1="380.40" x2="126.70" y2="380.40" stroke="#111" stroke-width="1.2" />
<line x1="138.38" y1="362.40" x2="138.38" y2="374.40" stroke="#111" stroke-width="1.2" />
<line x1="136.88" y1="362.40" x2="139.88" y2="362.40" stroke="#111" stroke-width="1.2" />
<line x1="136.88" y1="374.40" x2="139.88" y2="374.40" stroke="#111" stroke-width="1.2" />
<line x1="151.56" y1="355.70" x2="151.56" y2="368.70" stroke="#111" stroke-width="1.2" />
<line x1="150.06" y1="355.70" x2="153.06" y2="355.70" stroke="#111" stroke-width="1.2" />
<line x1="150.06" y1="368.70" x2="153.06" y2="368.70" stroke="#111" stroke-width="1.2" />
<line x1="164.74" y1="345.70" x2="164.74" y2="365.70" stroke="#111" stroke-width="1.2" />
<line x1="163.24" y1="345.70" x2="166.24" y2="345.70" stroke="#111" stroke-width="1.2" />
<line x1="163.24" y1="365.70" x2="166.24" y2="365.70" stroke="#111" stroke-width="1.2" />
<line x1="177.92" y1="332.60" x2="177.92" y2="354.60" stroke="#111" stroke-width="1.2" />
<line x1="176.42" y1="332.60" x2="179.42" y2="332.60" stroke="#111" stroke-width="1.2" />
<line x1="176.42" y1="354.60" x2="179.42" y2="354.60" stroke="#111" stroke-width="1.2" />
<polyline points="59.30,388.00 72.48,387.10 85.66,388.50 98.84,384.60 112.02,380.40 125.20,374.40 138.38,368.40 151.56,362.20 164.74,355.70 177.92,343.60" fill="none" stroke="#9a1540" stroke-width="1.6" stroke-linejoin="round" />
<path d="M57.10,388.00 L59.30,386.00 L61.50,388.00 L59.30,390.00 Z" fill="#9a1540"/>
<path d="M70.28,387.10 L72.48,385.10 L74.68,387.10 L72.48,389.10 Z" fill="#9a1540"/>
<path d="M83.46,388.50 L85.66,386.50 L87.86,388.50 L85.66,390.50 Z" fill="#9a1540"/>
<path d="M96.64,384.60 L98.84,382.60 L101.04,384.60 L98.84,386.60 Z" fill="#9a1540"/>
<path d="M109.82,380.40 L112.02,378.40 L114.22,380.40 L112.02,382.40 Z" fill="#9a1540"/>
<path d="M123.00,374.40 L125.20,372.40 L127.40,374.40 L125.20,376.40 Z" fill="#9a1540"/>
<path d="M136.18,368.40 L138.38,366.40 L140.58,368.40 L138.38,370.40 Z" fill="#9a1540"/>
<path d="M149.36,362.20 L151.56,360.20 L153.76,362.20 L151.56,364.20 Z" fill="#9a1540"/>
<path d="M162.54,355.70 L164.74,353.70 L166.94,355.70 L164.74,357.70 Z" fill="#9a1540"/>
<path d="M175.72,343.60 L177.92,341.60 L180.12,343.60 L177.92,345.60 Z" fill="#9a1540"/>
<circle cx="112.02" cy="372.00" r="1.00" fill="#111"/>
<circle cx="125.20" cy="363.50" r="1.00" fill="#111"/>
<line x1="186.60" y1="332.10" x2="192.50" y2="332.10" stroke="#2a4175" stroke-width="1.8" />
<circle cx="189.50" cy="332.10" r="1.9" fill="#2a4175"/>
<text x="0" y="0" font-size="7.7" text-anchor="start" font-weight="normal" fill="#1e1e1e" stroke="#1e1e1e" stroke-width="0.15" transform="translate(195.90,334.80) scale(1,1.12)" >pLKO.1</text>
<line x1="186.60" y1="343.40" x2="192.50" y2="343.40" stroke="#6db04a" stroke-width="1.8" />
<rect x="187.70" y="341.60" width="3.6" height="3.6" fill="#6db04a"/>
<text x="0" y="0" font-size="7.7" text-anchor="start" font-weight="normal" fill="#1e1e1e" stroke="#1e1e1e" stroke-width="0.15" transform="translate(195.90,346.10) scale(1,1.12)" >shHDAC6</text>
<line x1="186.60" y1="355.50" x2="192.50" y2="355.50" stroke="#48225f" stroke-width="1.8" />
<path d="M187.20,354.00 L191.80,354.00 L189.50,357.60 Z" fill="#48225f"/>
<text x="0" y="0" font-size="7.7" text-anchor="start" font-weight="normal" fill="#1e1e1e" stroke="#1e1e1e" stroke-width="0.15" transform="translate(195.90,358.20) scale(1,1.12)" >pLKO.1 rituximab</text>
<line x1="186.60" y1="366.40" x2="192.50" y2="366.40" stroke="#9a1540" stroke-width="1.8" />
<path d="M187.30,366.40 L189.50,364.40 L191.70,366.40 L189.50,368.40 Z" fill="#9a1540"/>
<text x="0" y="0" font-size="7.7" text-anchor="start" font-weight="normal" fill="#1e1e1e" stroke="#1e1e1e" stroke-width="0.15" transform="translate(195.90,369.10) scale(1,1.12)" >shHDAC6 rituximab</text>
<line x1="311.20" y1="310.00" x2="311.20" y2="395.00" stroke="#111" stroke-width="1.4" />
<line x1="308.20" y1="313.20" x2="311.20" y2="313.20" stroke="#111" stroke-width="1.26" />
<text x="0" y="0" font-size="7.9" text-anchor="end" font-weight="normal" fill="#1e1e1e" stroke="#1e1e1e" stroke-width="0.15" transform="translate(305.40,316.04) scale(1,1.0)" >100</text>
<line x1="308.20" y1="353.75" x2="311.20" y2="353.75" stroke="#111" stroke-width="1.26" />
<text x="0" y="0" font-size="7.9" text-anchor="end" font-weight="normal" fill="#1e1e1e" stroke="#1e1e1e" stroke-width="0.15" transform="translate(305.40,356.59) scale(1,1.0)" >50</text>
<line x1="308.20" y1="394.30" x2="311.20" y2="394.30" stroke="#111" stroke-width="1.26" />
<text x="0" y="0" font-size="7.9" text-anchor="end" font-weight="normal" fill="#1e1e1e" stroke="#1e1e1e" stroke-width="0.15" transform="translate(305.40,397.14) scale(1,1.0)" >0</text>
<line x1="310.50" y1="394.30" x2="447.20" y2="394.30" stroke="#111" stroke-width="1.4" />
<line x1="311.20" y1="394.30" x2="311.20" y2="396.70" stroke="#111" stroke-width="1.26" />
<line x1="344.95" y1="394.30" x2="344.95" y2="396.70" stroke="#111" stroke-width="1.26" />
<line x1="378.70" y1="394.30" x2="378.70" y2="396.70" stroke="#111" stroke-width="1.26" />
<line x1="412.45" y1="394.30" x2="412.45" y2="396.70" stroke="#111" stroke-width="1.26" />
<line x1="446.20" y1="394.30" x2="446.20" y2="396.70" stroke="#111" stroke-width="1.26" />
<text x="0" y="0" font-size="8.1" text-anchor="middle" font-weight="normal" fill="#1e1e1e" stroke="#1e1e1e" stroke-width="0.15" transform="translate(311.20,408.30) scale(1,1.12)" >0</text>
<text x="0" y="0" font-size="8.1" text-anchor="middle" font-weight="normal" fill="#1e1e1e" stroke="#1e1e1e" stroke-width="0.15" transform="translate(344.95,408.30) scale(1,1.12)" >20</text>
<text x="0" y="0" font-size="8.1" text-anchor="middle" font-weight="normal" fill="#1e1e1e" stroke="#1e1e1e" stroke-width="0.15" transform="translate(378.70,408.30) scale(1,1.12)" >40</text>
<text x="0" y="0" font-size="8.1" text-anchor="middle" font-weight="normal" fill="#1e1e1e" stroke="#1e1e1e" stroke-width="0.15" transform="translate(412.45,408.30) scale(1,1.12)" >60</text>
<text x="0" y="0" font-size="8.1" text-anchor="middle" font-weight="normal" fill="#1e1e1e" stroke="#1e1e1e" stroke-width="0.15" transform="translate(446.20,408.30) scale(1,1.12)" >80</text>
<text x="0" y="0" font-size="8.8" text-anchor="middle" font-weight="normal" fill="#1e1e1e" stroke="#1e1e1e" stroke-width="0.15" transform="translate(380.50,422.00) scale(1,1.22)" >Days after inoculation of tumor cells</text>
<text x="0" y="0" font-size="8.7" text-anchor="middle" fill="#1e1e1e" stroke="#1e1e1e" stroke-width="0.15" transform="translate(285.80,352.20) rotate(-90) scale(1,1.22)">Survival rate (%)</text>
<polyline points="311.20,313.20 384.60,313.20 384.60,339.90 397.40,339.90 397.40,349.20 403.70,349.20 403.70,367.70 409.00,367.70 409.00,385.40 446.10,385.40 446.10,385.40" fill="none" stroke="#9a1540" stroke-width="1.7" stroke-linejoin="round" stroke-linejoin="miter"/>
<polyline points="311.20,313.20 363.90,313.20 363.90,322.20 368.70,322.20 368.70,348.60 371.30,348.60 371.30,375.50 376.40,375.50 376.40,394.30" fill="none" stroke="#48225f" stroke-width="1.4" stroke-linejoin="round" stroke-linejoin="miter"/>
<polyline points="311.20,313.20 363.30,313.20 363.30,353.50 368.10,353.50 368.10,374.10 371.60,374.10 371.60,394.30" fill="none" stroke="#6db04a" stroke-width="1.4" stroke-linejoin="round" stroke-linejoin="miter"/>
<polyline points="311.20,313.20 345.00,313.20 345.00,333.70 371.80,333.70 371.80,374.20 376.60,374.20 376.60,394.30" fill="none" stroke="#2a4175" stroke-width="1.4" stroke-linejoin="round" stroke-linejoin="miter"/>
<circle cx="426.20" cy="380.70" r="1.15" fill="#111"/>
<circle cx="430.10" cy="380.70" r="1.15" fill="#111"/>
<circle cx="434.00" cy="380.70" r="1.15" fill="#111"/>
<circle cx="437.90" cy="380.70" r="1.15" fill="#111"/>
<line x1="446.10" y1="383.60" x2="446.10" y2="387.00" stroke="#9a1540" stroke-width="1.0" />
<line x1="435.00" y1="329.10" x2="442.90" y2="329.10" stroke="#2a4175" stroke-width="1.5" />
<line x1="439.00" y1="327.80" x2="439.00" y2="329.40" stroke="#2a4175" stroke-width="1.0" />
<text x="0" y="0" font-size="7.7" text-anchor="start" font-weight="normal" fill="#1e1e1e" stroke="#1e1e1e" stroke-width="0.15" transform="translate(445.70,331.80) scale(1,1.12)" >pLKO.1</text>
<line x1="435.00" y1="340.20" x2="442.90" y2="340.20" stroke="#6db04a" stroke-width="1.5" />
<line x1="439.00" y1="338.90" x2="439.00" y2="340.50" stroke="#6db04a" stroke-width="1.0" />
<text x="0" y="0" font-size="7.7" text-anchor="start" font-weight="normal" fill="#1e1e1e" stroke="#1e1e1e" stroke-width="0.15" transform="translate(445.70,342.90) scale(1,1.12)" >shHDAC6</text>
<line x1="435.00" y1="352.10" x2="442.90" y2="352.10" stroke="#48225f" stroke-width="1.5" />
<line x1="439.00" y1="350.80" x2="439.00" y2="352.40" stroke="#48225f" stroke-width="1.0" />
<text x="0" y="0" font-size="7.7" text-anchor="start" font-weight="normal" fill="#1e1e1e" stroke="#1e1e1e" stroke-width="0.15" transform="translate(445.70,354.80) scale(1,1.12)" >pLKO.1 rituximab</text>
<line x1="435.00" y1="363.40" x2="442.90" y2="363.40" stroke="#9a1540" stroke-width="1.5" />
<line x1="439.00" y1="362.10" x2="439.00" y2="363.70" stroke="#9a1540" stroke-width="1.0" />
<text x="0" y="0" font-size="7.7" text-anchor="start" font-weight="normal" fill="#1e1e1e" stroke="#1e1e1e" stroke-width="0.15" transform="translate(445.70,366.10) scale(1,1.12)" >shHDAC6 rituximab</text>
</svg>
</body></html>
